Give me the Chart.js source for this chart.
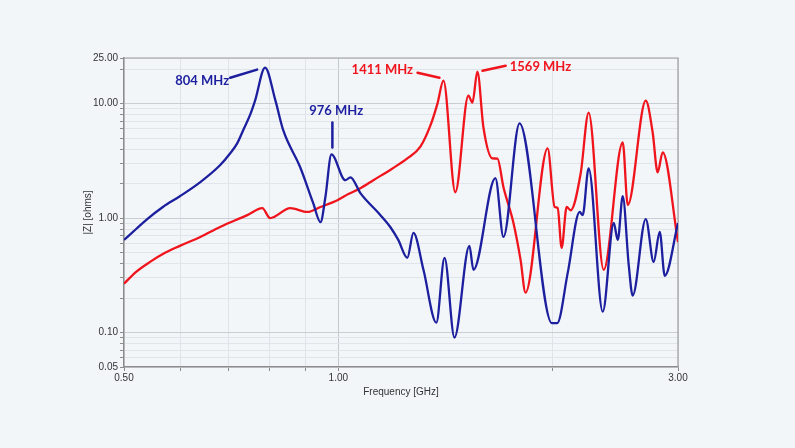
<!DOCTYPE html>
<html>
<head>
<meta charset="utf-8">
<script src="https://cdn.jsdelivr.net/npm/chart.js@4/dist/chart.umd.min.js"></script>
<style>
  html, body { margin: 0; padding: 0; background: #f3f6f9; }
  canvas { display: block; }
</style>
</head>
<body>
<canvas id="chart" width="795" height="448"></canvas>
<script>
// impedance traces, frequency in GHz, |Z| in ohms
const blueFreq = [0.500, 0.520, 0.539, 0.567, 0.599, 0.640, 0.682, 0.705, 0.721, 0.737, 0.752, 0.764, 0.789,
  0.816, 0.837, 0.884, 0.922, 0.944, 0.959, 0.978, 1.023, 1.040, 1.074,
  1.146, 1.183, 1.214, 1.250, 1.275, 1.317, 1.373, 1.410, 1.456, 1.528,
  1.548, 1.662, 1.706, 1.797, 1.995, 2.030, 2.100, 2.183, 2.204, 2.247,
  2.352, 2.437, 2.469, 2.509, 2.558, 2.591, 2.703, 2.773, 2.828, 2.874, 3.000]
const blueZ = [0.644, 0.802, 0.98, 1.25, 1.55, 2.06, 2.89, 3.68, 4.49, 6.06, 8.0, 10.6, 20.6,
  10.6, 5.82, 2.78, 1.35, 0.92, 1.52, 3.60, 2.14, 2.27, 1.65,
  1.06, 0.835, 0.644, 0.449, 0.741, 0.353, 0.122, 0.449, 0.0905, 0.571,
  0.353, 2.23, 0.684, 6.70, 0.121, 0.121, 0.332, 1.13, 1.06, 2.72,
  0.152, 0.905, 0.644, 1.55, 0.39, 0.21, 0.98, 0.414, 0.755, 0.313, 0.905]

const redFreq = [0.500, 0.520, 0.544, 0.571, 0.599, 0.640, 0.682, 0.745, 0.782, 0.802, 0.856, 0.905,
  0.944, 0.997, 1.033, 1.074, 1.120, 1.190, 1.250, 1.304, 1.347, 1.378, 1.405, 1.460,
  1.523, 1.543, 1.568, 1.599, 1.646, 1.673, 1.706, 1.762, 1.803, 1.832,
  1.968, 2.013, 2.033, 2.059, 2.093, 2.120, 2.190, 2.247, 2.359, 2.509,
  2.550, 2.703, 2.764, 2.809, 2.855, 3.000]
const redZ = [0.267, 0.339, 0.414, 0.497, 0.571, 0.684, 0.835, 1.06, 1.22, 1.00, 1.22, 1.13,
  1.25, 1.43, 1.62, 1.82, 2.14, 2.70, 3.32, 4.20, 6.44, 10.0, 15.85, 1.68,
  11.74, 10.2, 19.0, 6.18, 3.32, 3.30, 1.86, 0.905, 0.431, 0.223,
  4.06, 1.25, 1.22, 0.548, 1.25, 1.17, 2.46, 8.35, 0.353, 4.58,
  1.30, 10.6, 5.59, 2.51, 3.75, 0.618]

// axis ticks
const xTicks = [0.5, 0.6, 0.7, 0.8, 0.9, 1, 2, 3]
const xLabelled = [0.5, 1, 3]
const yTicks = [0.05, 0.06, 0.07, 0.08, 0.09, 0.1, 0.2, 0.3, 0.4, 0.5, 0.6, 0.7, 0.8, 0.9,
  1, 2, 3, 4, 5, 6, 7, 8, 9, 10, 20, 25]
const yLabelled = [0.05, 0.1, 1, 10, 25]

// resonance callouts
const noteText = ['804 MHz', '976 MHz', '1411 MHz', '1569 MHz']
const noteX = [0.644, 0.993, 1.153, 1.923]
const noteY = [15.85, 8.70, 19.8, 20.97]
const leadX1 = [0.705, 0.981, 1.292, 1.594]
const leadY1 = [16.8, 6.84, 18.6, 19.36]
const leadX2 = [0.769, 0.981, 1.387, 1.718]
const leadY2 = [19.8, 4.14, 16.8, 21.4]

const BLUE = '#1c1f9e'
const RED = '#f0141c'
const noteColor = [BLUE, BLUE, RED, RED]

function toPoints(xs, ys) {
    var pts = []
    for (var i = 0; i < xs.length; i++) {
        pts.push({x: xs[i], y: ys[i]})
    }
    return pts
}

const frame = {
    id: 'frame',
    beforeDatasetsDraw(chart) {
        const a = chart.chartArea
        const ctx = chart.ctx
        ctx.save()
        ctx.strokeStyle = '#9a9a9a'
        ctx.lineWidth = 1.2
        ctx.beginPath()
        ctx.moveTo(a.left, a.top)
        ctx.lineTo(a.right, a.top)
        ctx.lineTo(a.right, a.bottom)
        ctx.stroke()
        ctx.restore()
    },
    afterDatasetsDraw(chart) {
        const ctx = chart.ctx
        const xs = chart.scales.x
        const ys = chart.scales.y
        ctx.save()
        ctx.lineWidth = 2.5
        ctx.lineCap = 'round'
        ctx.font = 'bold 13px Lato, "Open Sans", sans-serif'
        ctx.textAlign = 'center'
        ctx.textBaseline = 'middle'
        for (var i = 0; i < noteText.length; i++) {
            ctx.strokeStyle = noteColor[i]
            ctx.fillStyle = noteColor[i]
            ctx.beginPath()
            ctx.moveTo(xs.getPixelForValue(leadX1[i]), ys.getPixelForValue(leadY1[i]))
            ctx.lineTo(xs.getPixelForValue(leadX2[i]), ys.getPixelForValue(leadY2[i]))
            ctx.stroke()
            ctx.fillText(noteText[i], xs.getPixelForValue(noteX[i]), ys.getPixelForValue(noteY[i]))
        }
        ctx.restore()
    }
}

const tickFont = {family: '"Liberation Sans", Arial, sans-serif', size: 10}

new Chart(document.getElementById('chart'), {
    type: 'line',
    data: {
        datasets: [
            {
                data: toPoints(blueFreq, blueZ),
                borderColor: BLUE,
                borderWidth: 2.3,
                pointRadius: 0,
                cubicInterpolationMode: 'monotone',
                fill: false
            },
            {
                data: toPoints(redFreq, redZ),
                borderColor: RED,
                borderWidth: 2.3,
                pointRadius: 0,
                cubicInterpolationMode: 'monotone',
                fill: false
            }
        ]
    },
    options: {
        responsive: false,
        animation: false,
        devicePixelRatio: 1,
        layout: {padding: {left: 78, right: 117, top: 58, bottom: 46}},
        plugins: {
            legend: {display: false},
            tooltip: {enabled: false}
        },
        scales: {
            x: {
                type: 'logarithmic',
                min: 0.5,
                max: 3,
                afterFit: (s) => { s.height = 35 },
                afterBuildTicks: (s) => { s.ticks = xTicks.map(v => ({value: v})) },
                ticks: {
                    autoSkip: false,
                    maxRotation: 0,
                    padding: 1,
                    color: '#333',
                    font: tickFont,
                    callback: (v) => xLabelled.includes(v) ? v.toFixed(2) : ''
                },
                grid: {
                    color: (c) => (c.tick && c.tick.value == 1) ? '#c3c9d0' : '#dfe4ea',
                    tickColor: '#8c8c8c',
                    tickLength: 4
                },
                border: {color: '#8c8c8c', width: 1.5},
                title: {display: true, text: 'Frequency [GHz]', color: '#333', font: tickFont, padding: {top: 4, bottom: 4}}
            },
            y: {
                type: 'logarithmic',
                min: 0.05,
                max: 25,
                afterFit: (s) => { s.width = 46 },
                afterBuildTicks: (s) => { s.ticks = yTicks.map(v => ({value: v})) },
                ticks: {
                    autoSkip: false,
                    padding: 2,
                    color: '#333',
                    font: tickFont,
                    callback: (v) => yLabelled.includes(v) ? v.toFixed(2) : ''
                },
                grid: {
                    color: (c) => (c.tick && (c.tick.value == 1 || c.tick.value == 0.1 || c.tick.value == 10)) ? '#c9ced5' : '#e0e5eb',
                    tickColor: '#8c8c8c',
                    tickLength: 4
                },
                border: {color: '#8c8c8c', width: 1.5},
                title: {display: true, text: '|Z| [ohms]', color: '#333', font: tickFont, padding: {top: 4, bottom: 4}}
            }
        }
    },
    plugins: [frame]
})
</script>
</body>
</html>
